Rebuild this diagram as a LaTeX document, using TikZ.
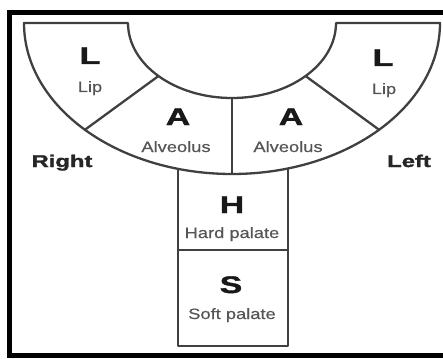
\documentclass[tikz,border=0pt]{standalone}
\usepackage{fontspec}
\setmainfont{Liberation Sans}
\newfontfamily\heavyfont[BoldFeatures={FakeBold=1.6}]{Liberation Sans}
\newfontfamily\lightfont[FakeBold=0.4]{Liberation Sans}
\usetikzlibrary{calc}
\definecolor{linegray}{HTML}{404040}
\definecolor{textgray}{HTML}{555555}
\begin{document}
\begin{tikzpicture}[x=1pt,y=1pt,
  region/.style={draw=linegray,line width=2.3pt,line join=round},
  bigletter/.style={anchor=base,inner sep=0pt,text=black!90,font=\fontsize{24}{24}\heavyfont\bfseries},
  smalltext/.style={anchor=base,inner sep=0pt,text=textgray,font=\fontsize{15}{15}\lightfont},
  sidetext/.style={anchor=base,inner sep=0pt,text=black!85,font=\fontsize{17}{17}\heavyfont\bfseries}]
\useasboundingbox (0,0) rectangle (443,-358);
% outer frame
\draw[line width=5pt,black] (9.5,-13) rectangle (447,-355.5);
% center of the arch
\coordinate (c) at (232,-23);
% arch outline
\draw[region] (24,-23) -- (128,-23)
  arc[start angle=180,end angle=360,x radius=104,y radius=75]
  -- (440,-23)
  arc[start angle=0,end angle=-180,x radius=208,y radius=151] -- cycle;
% dividers
\coordinate (i1) at ($(c)+(225:104 and 75)$);
\coordinate (o1) at ($(c)+(225:208 and 151)$);
\coordinate (i2) at ($(c)+(270:104 and 75)$);
\coordinate (o2) at ($(c)+(270:208 and 151)$);
\coordinate (i3) at ($(c)+(315:104 and 75)$);
\coordinate (o3) at ($(c)+(315:208 and 151)$);
\draw[region] (i1) -- (o1);
\draw[region] (i2) -- (o2);
\draw[region] (i3) -- (o3);
% palate boxes
\coordinate (hl) at (178,-168.8);
\coordinate (hr) at (288,-168.8);
\draw[region] (hl) -- (178,-346) -- (288,-346) -- (hr);
\draw[region] (178,-250) -- (288,-250);
% labels
\node[bigletter] (lL) at (90,-64) {\scalebox{1.4}[1]{L}};
\node[smalltext] (lLip) at (90,-92) {\scalebox{1.22}[1]{Lip}};
\node[bigletter] (rL) at (383,-66) {\scalebox{1.4}[1]{L}};
\node[smalltext] (rLip) at (384,-94) {\scalebox{1.22}[1]{Lip}};
\node[bigletter] (lA) at (178,-125) {\scalebox{1.4}[1]{A}};
\node[smalltext] (lAlv) at (176,-152) {\scalebox{1.22}[1]{Alveolus}};
\node[bigletter] (rA) at (291,-125) {\scalebox{1.4}[1]{A}};
\node[smalltext] (rAlv) at (288,-152) {\scalebox{1.22}[1]{Alveolus}};
\node[sidetext] (right) at (62,-167) {\scalebox{1.4}[1]{Right}};
\node[sidetext] (left) at (409,-167) {\scalebox{1.4}[1]{Left}};
\node[bigletter] (H) at (232,-213) {\scalebox{1.4}[1]{H}};
\node[smalltext] (hard) at (232,-238) {\scalebox{1.22}[1]{Hard palate}};
\node[bigletter] (S) at (231,-293) {\scalebox{1.4}[1]{S}};
\node[smalltext] (soft) at (232,-319) {\scalebox{1.22}[1]{Soft palate}};
\end{tikzpicture}
\end{document}
